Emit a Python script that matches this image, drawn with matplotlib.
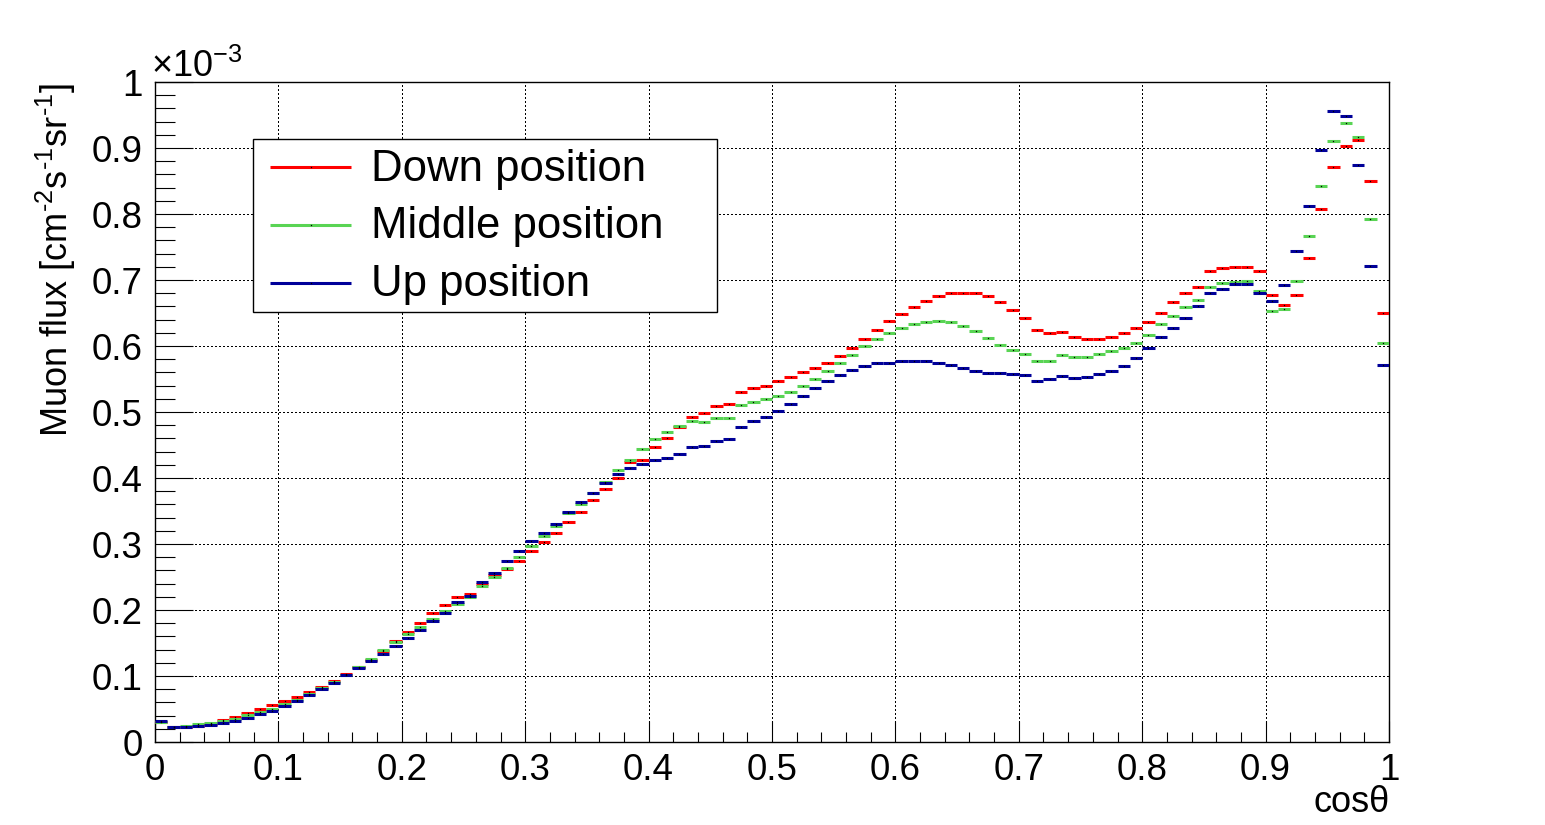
import matplotlib
matplotlib.use('Agg')
import matplotlib.pyplot as plt
import numpy as np
from matplotlib.lines import Line2D
from matplotlib.patches import Rectangle
from matplotlib.ticker import MultipleLocator

plt.rcParams['font.family'] = ['Liberation Sans', 'DejaVu Sans']
plt.rcParams['mathtext.fontset'] = 'custom'
plt.rcParams['mathtext.rm'] = 'Liberation Sans'
plt.rcParams['mathtext.it'] = 'Liberation Sans:italic'

# ---------------- data (flux in units of 1e-3 cm^-2 s^-1 sr^-1) ----------------
n_bins = 100
edges = np.linspace(0.0, 1.0, n_bins + 1)

down = [
    0.030, 0.022, 0.022, 0.024, 0.027, 0.034, 0.038, 0.044, 0.0495, 0.0555,
    0.0616, 0.0677, 0.0753, 0.0833, 0.093, 0.1035, 0.114, 0.125, 0.138, 0.1535,
    0.166, 0.181, 0.195, 0.207, 0.219, 0.224, 0.240, 0.253, 0.262, 0.275,
    0.289, 0.3025, 0.316, 0.333, 0.348, 0.366, 0.383, 0.3995, 0.425, 0.428,
    0.4465, 0.460, 0.4768, 0.492, 0.498, 0.5086, 0.5116, 0.531, 0.536, 0.539,
    0.5465, 0.5525, 0.560, 0.566, 0.5737, 0.5843, 0.5965, 0.610, 0.625, 0.6374,
    0.648, 0.6586, 0.6677, 0.6753, 0.680, 0.680, 0.680, 0.6753, 0.666, 0.654,
    0.642, 0.6237, 0.619, 0.6207, 0.613, 0.610, 0.610, 0.613, 0.619, 0.627,
    0.636, 0.6495, 0.666, 0.680, 0.690, 0.713, 0.7177, 0.719, 0.719, 0.713,
    0.678, 0.6616, 0.677, 0.734, 0.807, 0.8707, 0.9025, 0.9116, 0.8495, 0.6495,
]

middle = [
    0.030, 0.023, 0.024, 0.027, 0.029, 0.032, 0.035, 0.041, 0.045, 0.050,
    0.0576, 0.064, 0.073, 0.082, 0.0915, 0.102, 0.114, 0.1258, 0.139, 0.151,
    0.1636, 0.175, 0.186, 0.198, 0.2096, 0.220, 0.237, 0.2495, 0.264, 0.280,
    0.2965, 0.3116, 0.328, 0.3465, 0.361, 0.377, 0.3945, 0.4116, 0.428, 0.4434,
    0.4586, 0.469, 0.479, 0.486, 0.4843, 0.4904, 0.4904, 0.510, 0.5146, 0.519,
    0.525, 0.531, 0.540, 0.5495, 0.5616, 0.575, 0.586, 0.5995, 0.610, 0.619,
    0.627, 0.633, 0.636, 0.6374, 0.636, 0.630, 0.622, 0.6116, 0.601, 0.5934,
    0.5874, 0.5768, 0.578, 0.586, 0.583, 0.584, 0.5874, 0.592, 0.5965, 0.604,
    0.616, 0.633, 0.645, 0.6586, 0.669, 0.690, 0.695, 0.6965, 0.698, 0.683,
    0.6525, 0.6556, 0.698, 0.766, 0.842, 0.910, 0.9374, 0.916, 0.792, 0.604,
]

up = [
    0.0318, 0.0227, 0.0227, 0.024, 0.026, 0.029, 0.032, 0.036, 0.042, 0.0475,
    0.0545, 0.0616, 0.071, 0.080, 0.090, 0.101, 0.1116, 0.122, 0.134, 0.145,
    0.157, 0.169, 0.183, 0.195, 0.212, 0.221, 0.242, 0.2555, 0.274, 0.289,
    0.304, 0.316, 0.331, 0.348, 0.363, 0.378, 0.392, 0.4056, 0.4146, 0.4207,
    0.4268, 0.431, 0.437, 0.4465, 0.448, 0.4556, 0.4586, 0.478, 0.486, 0.492,
    0.501, 0.5116, 0.525, 0.536, 0.5465, 0.5556, 0.563, 0.569, 0.5737, 0.575,
    0.5768, 0.5768, 0.5768, 0.5737, 0.5707, 0.566, 0.5616, 0.5586, 0.5586, 0.557,
    0.5556, 0.5465, 0.5495, 0.554, 0.551, 0.5526, 0.557, 0.5616, 0.569, 0.5813,
    0.5965, 0.613, 0.627, 0.642, 0.660, 0.681, 0.686, 0.6935, 0.6935, 0.681,
    0.6677, 0.692, 0.7434, 0.8116, 0.8965, 0.9555, 0.948, 0.8737, 0.7207, 0.5707,
]

series_names = ["Down position", "Middle position", "Up position"]
series_colors = ["#ff0000", "#59d454", "#000099"]

xticks = [0.0, 0.1, 0.2, 0.3, 0.4, 0.5, 0.6, 0.7, 0.8, 0.9, 1.0]
xtick_labels = ["0", "0.1", "0.2", "0.3", "0.4", "0.5", "0.6", "0.7", "0.8", "0.9", "1"]
yticks = [0.0, 0.1, 0.2, 0.3, 0.4, 0.5, 0.6, 0.7, 0.8, 0.9, 1.0]
ytick_labels = ["0", "0.1", "0.2", "0.3", "0.4", "0.5", "0.6", "0.7", "0.8", "0.9", "1"]

# ---------------- figure ----------------
W, H = 1545, 825
fig = plt.figure(figsize=(W / 100, H / 100), dpi=100)
fig.patch.set_facecolor('white')


def fx(px):
    return px / W


def fy(py):
    return 1 - py / H


ax = fig.add_axes([fx(155), fy(742), 1234 / W, 660 / H])
ax.set_xlim(0, 1)
ax.set_ylim(0, 1)

centers = 0.5 * (edges[:-1] + edges[1:])
for vals, col in zip([down, middle, up], series_colors):
    ax.hlines(vals, edges[:-1], edges[1:], colors=col, lw=2.2, capstyle='butt', zorder=3)
    ax.plot(centers, vals, ls='none', marker='s', ms=0.9, mew=0, color='k', zorder=4)

ax.set_xticks(xticks)
ax.set_xticklabels(xtick_labels)
ax.set_yticks(yticks)
ax.set_yticklabels(ytick_labels)
ax.xaxis.set_minor_locator(MultipleLocator(0.02))
ax.yaxis.set_minor_locator(MultipleLocator(0.02))

ax.tick_params(axis='both', which='both', direction='in', top=False, right=False,
               width=0.8, color='k', labelsize=26.5)
ax.tick_params(axis='y', which='major', length=27.5, pad=9)
ax.tick_params(axis='y', which='minor', length=14.5)
ax.tick_params(axis='x', which='major', length=15, pad=8)
ax.tick_params(axis='x', which='minor', length=7.5)

ax.grid(True, which='major', color='k', ls=(0, (1, 2)), lw=0.75, antialiased=False)
ax.set_axisbelow(True)
for sp in ax.spines.values():
    sp.set_linewidth(1.0)
    sp.set_color('k')

# axis titles
fig.text(fx(56), fy(83), "Muon flux [cm$^{\u20102}$s$^{\u20101}$sr$^{\u20101}$]", rotation=90,
         ha='center', va='top', fontsize=26)
fig.text(fx(1390), fy(803), "cos\u03b8", ha='right', va='center', fontsize=26)
fig.text(fx(151), fy(77), "\u00d710$^{\u22123}$", ha='left', va='baseline', fontsize=26)

# legend
fig.patches.append(Rectangle((fx(253), fy(312)), (717 - 253) / W, (312 - 139) / H,
                             transform=fig.transFigure, facecolor='white',
                             edgecolor='k', lw=1.0, zorder=5))
for name, col, yl, yb in zip(series_names, series_colors, [167, 225, 283], [181, 238, 296]):
    fig.lines.append(Line2D([fx(270), fx(351)], [fy(yl), fy(yl)], transform=fig.transFigure,
                            color=col, lw=2.2, solid_capstyle='butt', zorder=6))
    fig.lines.append(Line2D([fx(310.5)], [fy(yl)], transform=fig.transFigure, ls='none',
                            marker='s', ms=0.9, mew=0, color='k', zorder=7))
    fig.text(fx(371), fy(yb), name, ha='left', va='baseline', fontsize=31.5, zorder=7)

fig.savefig('out.png', dpi=100, facecolor='white')
